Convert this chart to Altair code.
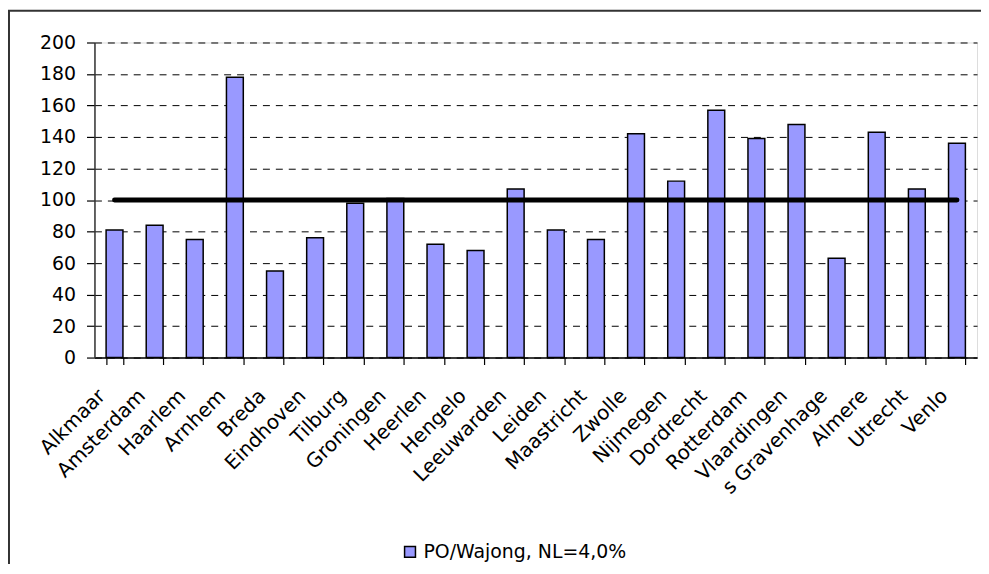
import altair as alt
import pandas as pd

cities = ["Alkmaar", "Amsterdam", "Haarlem", "Arnhem", "Breda", "Eindhoven",
          "Tilburg", "Groningen", "Heerlen", "Hengelo", "Leeuwarden", "Leiden",
          "Maastricht", "Zwolle", "Nijmegen", "Dordrecht", "Rotterdam",
          "Vlaardingen", "s Gravenhage", "Almere", "Utrecht", "Venlo"]
values = [81, 84, 75, 178, 55, 76, 98, 101, 72, 68, 107, 81, 75, 142, 112,
          157, 139, 148, 63, 143, 107, 136]
reference = [100] * len(cities)
y_ticks = [0, 20, 40, 60, 80, 100, 120, 140, 160, 180, 200]
series_name = "PO/Wajong, NL=4,0%"

df = pd.DataFrame({"city": cities, "value": values, "ref": reference,
                   "series": [series_name] * len(cities)})

FONT = "DejaVu Sans"

x_axis = alt.Axis(labelAngle=-45, labelAlign="right", labelBaseline="top",
                  labelOffset=-20, labelPadding=21, tickBand="extent",
                  tickSize=7, tickColor="#000", tickWidth=1.2,
                  domainColor="#000", domainWidth=1.5,
                  labelFont=FONT, labelFontSize=20, labelColor="#000",
                  labelOverlap=False, labelLimit=300, grid=False)
y_axis = alt.Axis(values=y_ticks, tickSize=8, tickColor="#000",
                  tickWidth=1.2, labelPadding=11, domainColor="#333",
                  domainWidth=1.5, labelFont=FONT, labelFontSize=19,
                  labelColor="#000", labelOverlap=False,
                  grid=True, gridColor="#000",
                  gridDash=[7, 6], gridWidth=1)
x_scale = alt.Scale(paddingInner=0.58, paddingOuter=0.29)
y_scale = alt.Scale(domain=[0, 200], nice=False)

bars = alt.Chart(df).mark_bar(stroke="#000", strokeWidth=1.5).encode(
    x=alt.X("city:N", sort=cities, title=None, scale=x_scale, axis=x_axis),
    y=alt.Y("value:Q", title=None, scale=y_scale, axis=y_axis),
    color=alt.Color("series:N", title=None,
                    scale=alt.Scale(range=["#9999FF"]),
                    legend=alt.Legend(orient="none", legendX=308, legendY=503,
                                      symbolType="square", symbolSize=120,
                                      symbolStrokeColor="#000", symbolStrokeWidth=1.5,
                                      labelFont=FONT, labelFontSize=19,
                                      labelLimit=400,
                                      labelColor="#000", labelOffset=4)),
)

line = alt.Chart(df).mark_line(color="#000", strokeWidth=5, strokeCap="round").encode(
    x=alt.X("city:N", sort=cities, title=None, scale=x_scale, axis=x_axis),
    y=alt.Y("ref:Q", title=None, scale=y_scale, axis=y_axis),
)

border_data = alt.Data(values=[{}])
left_border = alt.Chart(border_data).mark_rule(color="#333", strokeWidth=2).encode(
    x=alt.value(-86), y=alt.value(-32), y2=alt.value(560))
top_border = alt.Chart(border_data).mark_rule(color="#333", strokeWidth=2).encode(
    x=alt.value(-87), x2=alt.value(900), y=alt.value(-32))

chart = alt.layer(bars, line, left_border, top_border).properties(
    width=888, height=317,
    autosize=alt.AutoSizeParams(type="none"),
    padding={"left": 87, "top": 33, "right": 4, "bottom": 206},
).configure_view(stroke="#999", strokeWidth=2).configure(background="white")

chart.save("out.html", embed_options={"renderer": "svg", "actions": False})
